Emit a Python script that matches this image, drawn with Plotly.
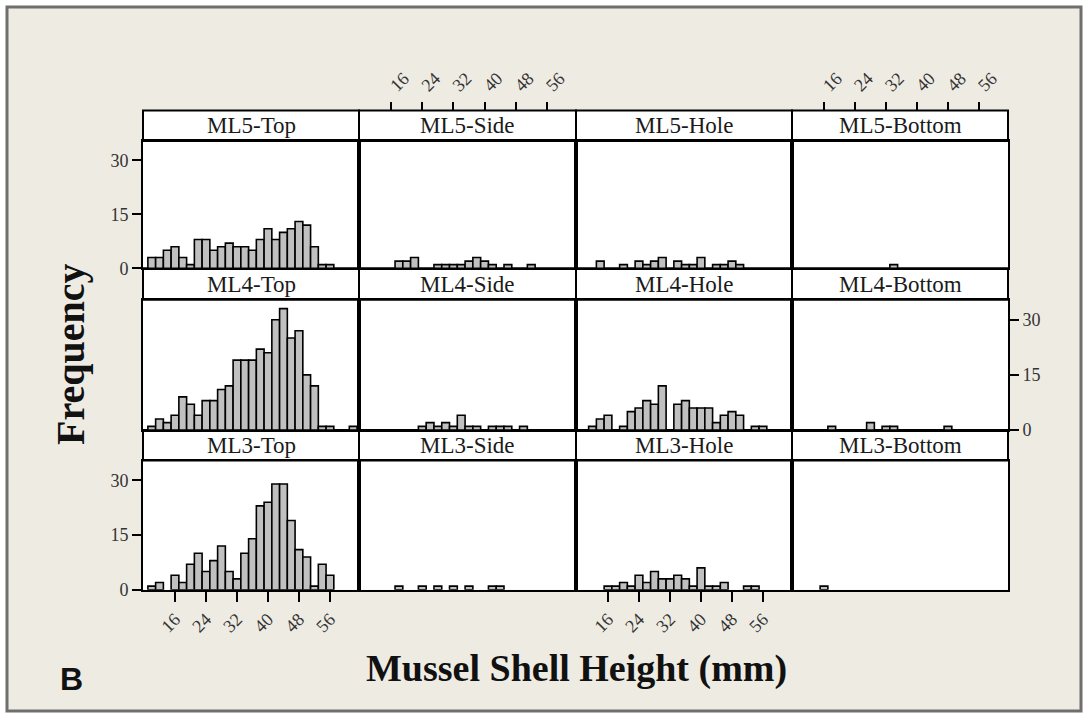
import plotly.graph_objects as go

# ---------------- data ----------------
bins = list(range(10, 64, 2))  # histogram midpoints (mm), bin width 2 mm
x_ticks = [16, 24, 32, 40, 48, 56]
y_ticks = [0, 15, 30]

#            10 12 14 16 18 20 22 24 26 28 30 32 34 36 38 40 42 44 46 48 50 52 54 56 58 60 62
ml5_top    = [3, 3, 5, 6, 3, 1, 8, 8, 5, 6, 7, 6, 6, 5, 8, 11, 8, 10, 11, 13, 12, 6, 1, 1, 0, 0, 0]
ml5_side   = [0, 0, 0, 0, 2, 2, 3, 0, 0, 1, 1, 1, 1, 2, 3, 2, 1, 0, 1, 0, 0, 1, 0, 0, 0, 0, 0]
ml5_hole   = [0, 0, 2, 0, 0, 1, 0, 2, 1, 2, 3, 0, 2, 1, 1, 3, 0, 1, 1, 2, 1, 0, 0, 0, 0, 0, 0]
ml5_bottom = [0, 0, 0, 0, 0, 0, 0, 0, 0, 0, 0, 0, 1, 0, 0, 0, 0, 0, 0, 0, 0, 0, 0, 0, 0, 0, 0]
ml4_top    = [1, 3, 2, 4, 9, 7, 4, 8, 8, 11, 12, 19, 19, 19, 22, 21, 30, 33, 25, 27, 15, 12, 1, 1, 0, 0, 1]
ml4_side   = [0, 0, 0, 0, 0, 0, 0, 1, 2, 1, 2, 1, 4, 1, 1, 0, 1, 1, 1, 0, 1, 0, 0, 0, 0, 0, 0]
ml4_hole   = [0, 1, 3, 4, 0, 1, 5, 6, 8, 7, 12, 0, 7, 8, 6, 6, 6, 2, 4, 5, 4, 0, 1, 1, 0, 0, 0]
ml4_bottom = [0, 0, 0, 0, 1, 0, 0, 0, 0, 2, 0, 1, 1, 0, 0, 0, 0, 0, 0, 1, 0, 0, 0, 0, 0, 0, 0]
ml3_top    = [1, 2, 0, 4, 2, 7, 10, 5, 8, 12, 5, 3, 10, 14, 23, 24, 29, 29, 19, 11, 9, 1, 7, 4, 0, 0, 0]
ml3_side   = [0, 0, 0, 0, 1, 0, 0, 1, 0, 1, 0, 1, 0, 1, 0, 0, 1, 1, 0, 0, 0, 0, 0, 0, 0, 0, 0]
ml3_hole   = [0, 0, 0, 1, 1, 2, 1, 4, 2, 5, 3, 3, 4, 3, 1, 6, 1, 1, 2, 0, 0, 1, 1, 0, 0, 0, 0]
ml3_bottom = [0, 0, 0, 1, 0, 0, 0, 0, 0, 0, 0, 0, 0, 0, 0, 0, 0, 0, 0, 0, 0, 0, 0, 0, 0, 0, 0]

panel_labels = [["ML5-Top", "ML5-Side", "ML5-Hole", "ML5-Bottom"],
                ["ML4-Top", "ML4-Side", "ML4-Hole", "ML4-Bottom"],
                ["ML3-Top", "ML3-Side", "ML3-Hole", "ML3-Bottom"]]
panel_values = [[ml5_top, ml5_side, ml5_hole, ml5_bottom],
                [ml4_top, ml4_side, ml4_hole, ml4_bottom],
                [ml3_top, ml3_side, ml3_hole, ml3_bottom]]

# ---------------- layout geometry (px) ----------------
W, H = 1088, 728
col_edges = [143, 359, 576, 792, 1008]
strip_top = [112, 272, 436]
panel_top = [143, 304, 467]
panel_bot = [272, 436, 598]
x_range = [7.74, 63.5]

def px(x):
    return x / W

def py(y):
    return 1 - y / H

SERIF = "Liberation Serif"
TICKFONT = dict(family=SERIF, size=18, color="#333333")
fig = go.Figure()
shapes = [dict(type="rect", xref="paper", yref="paper", x0=px(7), x1=px(1081),
               y0=py(721), y1=py(7), fillcolor="#eeebe3",
               line=dict(color="#6f6f6f", width=3), layer="below")]
annotations = []
layout_axes = {}
extra_axis = 13

for r in range(3):
    for c in range(4):
        n = r * 4 + c + 1
        xa = "x" if n == 1 else f"x{n}"
        ya = "y" if n == 1 else f"y{n}"
        vals = panel_values[r][c]
        xs = [b for b, v in zip(bins, vals) if v > 0]
        ys = [v for v in vals if v > 0]
        fig.add_trace(go.Bar(x=xs, y=ys, width=2, xaxis=xa, yaxis=ya,
                             marker=dict(color="#c0c0c0", line=dict(color="black", width=1.6)),
                             showlegend=False, hoverinfo="skip"))
        shapes.append(dict(type="rect", xref="paper", yref="paper",
                           x0=px(col_edges[c]), x1=px(col_edges[c + 1]),
                           y0=py(panel_bot[r]), y1=py(panel_top[r]),
                           fillcolor="white", line=dict(width=0), layer="below"))
        shapes.append(dict(type="rect", xref="paper", yref="paper",
                           x0=px(col_edges[c]), x1=px(col_edges[c + 1]),
                           y0=py(panel_top[r]), y1=py(strip_top[r]),
                           fillcolor="white", line=dict(color="black", width=2), layer="below"))
        annotations.append(dict(xref="paper", yref="paper",
                                x=px((col_edges[c] + col_edges[c + 1]) / 2),
                                y=py((strip_top[r] + panel_top[r]) / 2),
                                text=panel_labels[r][c], showarrow=False,
                                xanchor="center", yanchor="middle",
                                font=dict(family=SERIF, size=23, color="#1a1a1a")))

        show_x_top = (r == 0 and c in (1, 3))
        show_x_bot = (r == 2 and c in (0, 2))
        show_y_left = (c == 0 and r in (0, 2))
        show_y_right = (r == 1 and c == 3)
        show_y = show_y_left or show_y_right

        xkey = "xaxis" if n == 1 else f"xaxis{n}"
        ykey = "yaxis" if n == 1 else f"yaxis{n}"
        layout_axes[xkey] = dict(
            domain=[px(col_edges[c]), px(col_edges[c + 1])], anchor=ya,
            range=x_range, showgrid=False, zeroline=False,
            showline=True, mirror=True, linecolor="black", linewidth=2,
            tickvals=x_ticks, ticktext=[str(t) for t in x_ticks],
            ticks="outside" if show_x_bot else "", ticklen=10, tickwidth=1.5, tickcolor="black",
            showticklabels=show_x_bot, side="bottom",
            tickangle=-45, tickfont=TICKFONT, fixedrange=True)
        layout_axes[ykey] = dict(
            domain=[py(panel_bot[r]), py(panel_top[r])], anchor=xa,
            range=[0, 35.4], showgrid=False, zeroline=False,
            showline=True, mirror=True, linecolor="black", linewidth=2,
            tickvals=y_ticks, ticktext=[str(t) for t in y_ticks],
            ticks="outside" if show_y else "", ticklen=9, tickwidth=1.5, tickcolor="black",
            showticklabels=show_y, side="right" if show_y_right else "left",
            tickfont=TICKFONT, fixedrange=True)

        if show_x_top:
            # top axis sits above the strip, as in the original layout
            k = extra_axis
            extra_axis += 1
            fig.add_trace(go.Scatter(x=[], y=[], xaxis=f"x{k}", yaxis=ya,
                                     showlegend=False, hoverinfo="skip"))
            layout_axes[f"xaxis{k}"] = dict(
                domain=[px(col_edges[c]), px(col_edges[c + 1])],
                overlaying=xa, anchor="free", position=py(strip_top[r]), side="top",
                range=x_range, showgrid=False, zeroline=False, showline=False,
                tickvals=x_ticks, ticktext=[str(t) for t in x_ticks],
                ticks="outside", ticklen=8, tickwidth=1.5, tickcolor="black",
                tickangle=-45, tickfont=TICKFONT, fixedrange=True)

annotations.append(dict(xref="paper", yref="paper", x=px(70), y=py(360),
                        text="Frequency", textangle=-90, showarrow=False,
                        xanchor="center", yanchor="middle",
                        font=dict(family=SERIF, size=40, color="#111111", weight="bold")))
annotations.append(dict(xref="paper", yref="paper", x=px(576), y=py(678),
                        text="Mussel Shell Height (mm)", showarrow=False,
                        xanchor="center", yanchor="middle",
                        font=dict(family=SERIF, size=38, color="#111111", weight="bold")))
annotations.append(dict(xref="paper", yref="paper", x=px(71), y=py(688),
                        text="B", showarrow=False, xanchor="center", yanchor="middle",
                        font=dict(family="Liberation Sans", size=32, color="#111111", weight="bold")))

fig.update_layout(width=W, height=H, margin=dict(l=0, r=0, t=0, b=0),
                  paper_bgcolor="white", plot_bgcolor="rgba(0,0,0,0)",
                  shapes=shapes, annotations=annotations, barmode="overlay",
                  **layout_axes)

fig.write_html("out.html")
